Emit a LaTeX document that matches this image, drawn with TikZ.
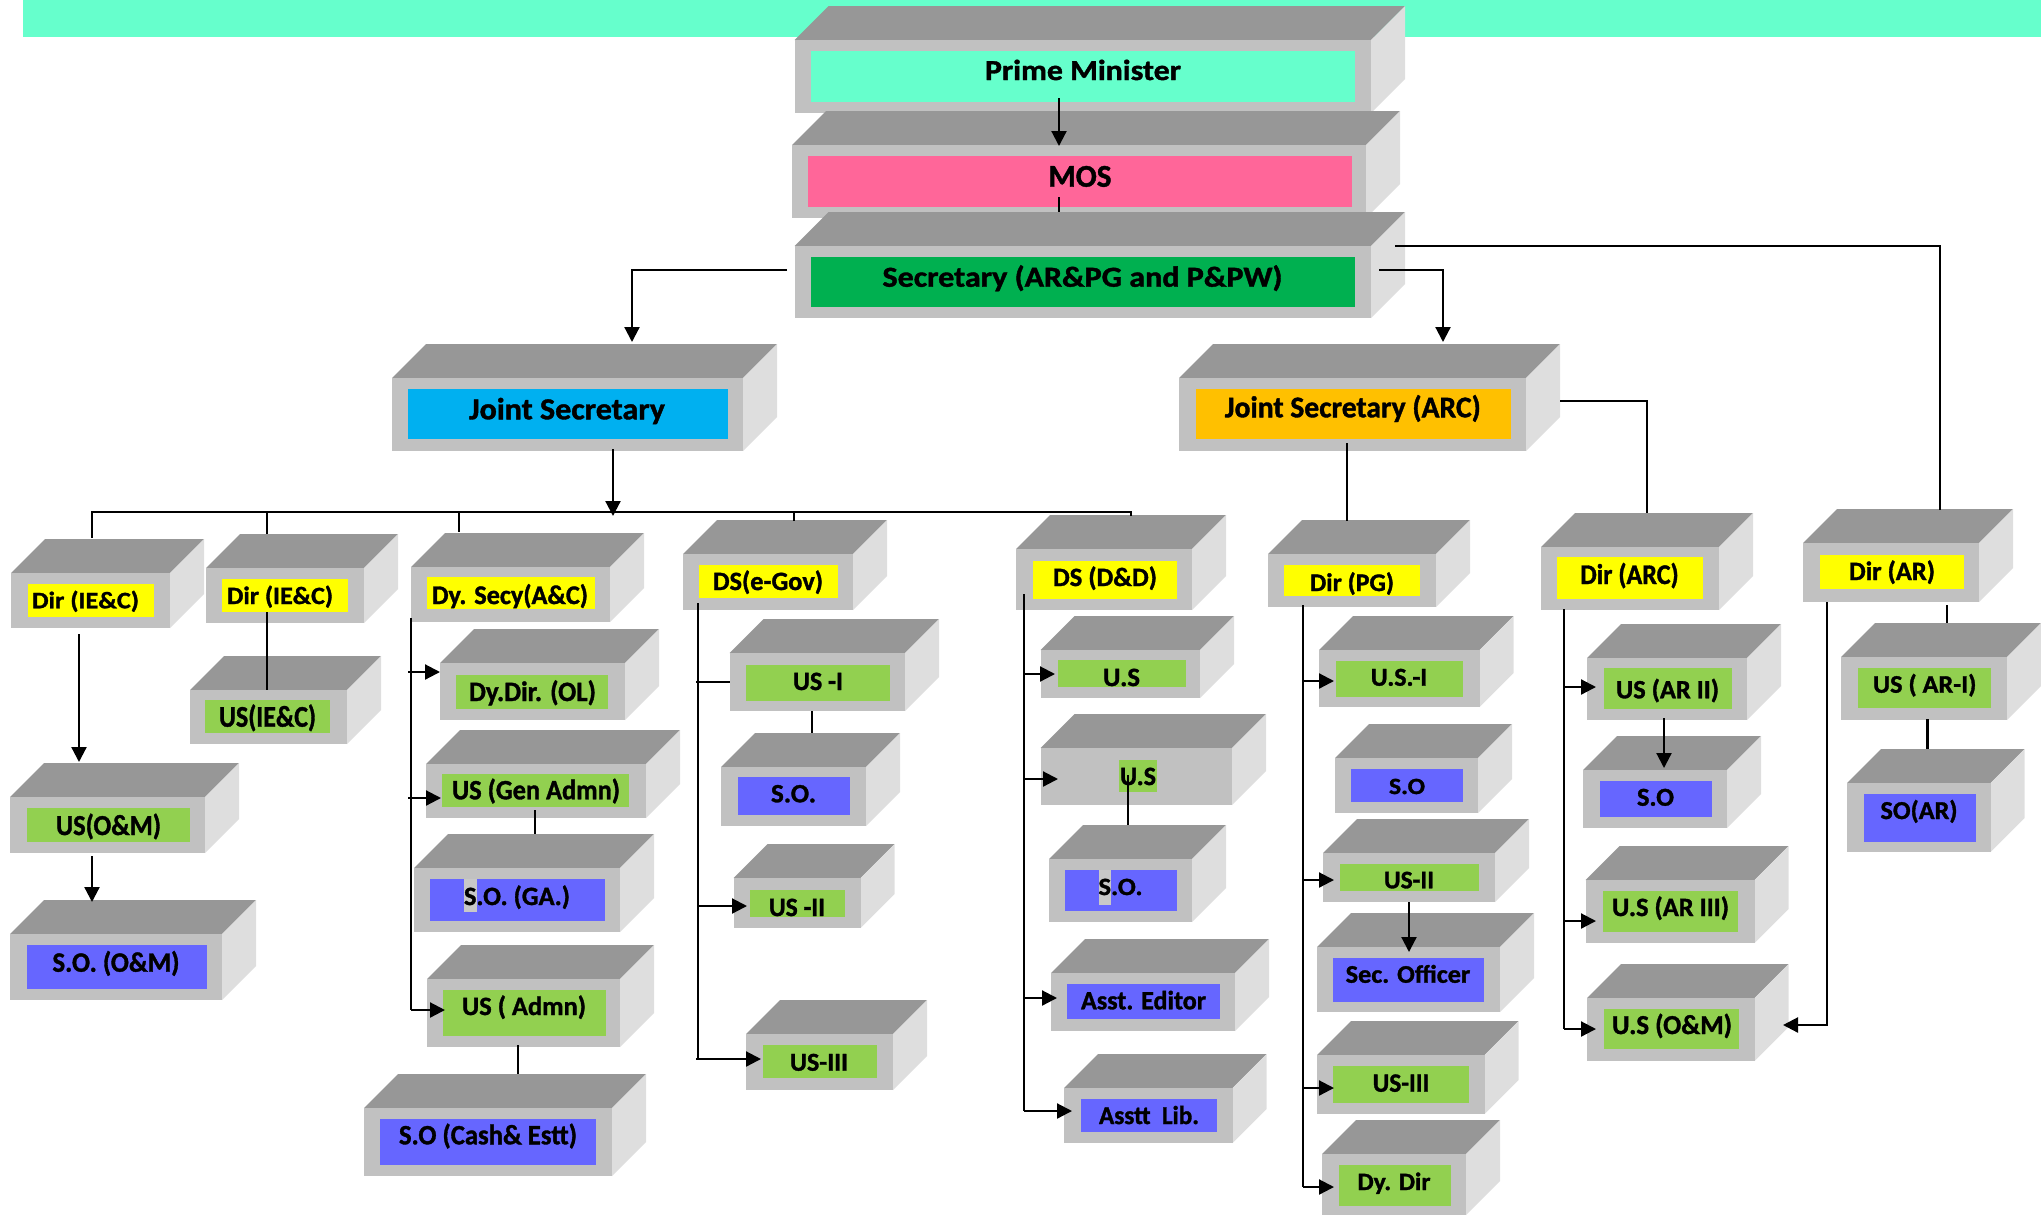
\documentclass[tikz,border=0pt]{standalone}
\usepackage{fontspec}
\setmainfont{Carlito}[BoldFeatures={FakeBold=1.3}]
\usepackage{graphicx}
\usetikzlibrary{arrows.meta}
\definecolor{topc}{HTML}{979797}
\definecolor{sidec}{HTML}{DEDEDE}
\definecolor{frontc}{HTML}{C1C1C1}
\definecolor{cyanc}{HTML}{66FFCC}
\definecolor{pinkc}{HTML}{FF6699}
\definecolor{secc}{HTML}{00B050}
\definecolor{jsc}{HTML}{00B0F0}
\definecolor{arcc}{HTML}{FFC000}
\definecolor{yelc}{HTML}{FFFF00}
\definecolor{grnc}{HTML}{92D050}
\definecolor{bluc}{HTML}{6666FF}
\definecolor{patchc}{HTML}{C8C8C8}
\newlength\fitw
\newcommand\fitt[3]{%
  \pgfmathsetmacro\fitfs{#2/0.632*0.5}%
  \fontsize{\fitfs pt}{\fitfs pt}\selectfont\bfseries
  \settowidth\fitw{#3}%
  \pgfmathsetmacro\fitsx{#1*0.5/\the\fitw}%
  \scalebox{\fitsx}[1]{#3}}
\newcommand\obox[5]{%
  \fill[topc] (#2,#3) -- (#2+34,#3-34) -- (#4+34,#3-34) -- (#4,#3) -- cycle;
  \fill[sidec] (#4,#3) -- (#4+34,#3-34) -- (#4+34,#5-34) -- (#4,#5) -- cycle;
  \node[frontbox, minimum width={(#4-#2)*0.5pt}, minimum height={(#5-#3)*0.5pt}] (#1) at ({(#2+#4)/2},{(#3+#5)/2}) {};}
\newcommand\ibox[6]{%
  \node[fill=#2, inner sep=0pt, outer sep=0pt, minimum width={(#5-#3)*0.5pt}, minimum height={(#6-#4)*0.5pt}] (#1) at ({(#3+#5)/2},{(#4+#6)/2}) {};}
\newcommand\tbox[6]{%
  \node[anchor=base, inner sep=0pt] (#1) at (#2,#3) {\fitt{#4}{#5}{#6}};}
\begin{document}
\begin{tikzpicture}[x=0.5pt,y=-0.5pt,
  frontbox/.style={fill=frontc, inner sep=0pt, outer sep=0pt},
  ln/.style={line width=1.1pt},
  arr/.style={ln, -{Triangle[length=7.5pt,width=7.5pt]}}]
\useasboundingbox (0,0) rectangle (2041,1217);
\fill[cyanc] (23,0) rectangle (2041,37);
% top chain
\obox{pm}{794.5}{40}{1371}{113}
\ibox{pm-i}{cyanc}{811}{51}{1355}{102}
\tbox{pm-t}{1083}{80}{196}{18.3}{Prime Minister}
\obox{mos}{792}{145}{1366}{218}
\ibox{mos-i}{pinkc}{808}{156}{1352}{207}
\tbox{mos-t}{1080}{186.7}{63}{20}{MOS}
\obox{sec}{794.5}{246}{1371}{318}
\ibox{sec-i}{secc}{811}{257}{1355}{307}
\tbox{sec-t}{1082.5}{286.7}{400}{18.3}{Secretary (AR\&PG and P\&PW)}
\obox{js}{392}{378}{743}{451}
\ibox{js-i}{jsc}{408}{389}{728}{439}
\tbox{js-t}{567}{419.3}{196}{19.3}{Joint Secretary}
\obox{jsarc}{1179}{378}{1526}{451}
\ibox{jsarc-i}{arcc}{1195.5}{389}{1511}{439}
\tbox{jsarc-t}{1352.8}{417.3}{256}{19}{Joint Secretary (ARC)}
% left directorates
\obox{d1}{11}{573}{170}{628}
\ibox{d1-i}{yelc}{28}{584}{154}{617}
\tbox{d1-t}{85.5}{608.3}{107}{15}{Dir (IE\&C)}
\obox{d2}{206}{568}{364}{623}
\ibox{d2-i}{yelc}{222}{579}{348}{612}
\tbox{d2-t}{280}{604}{106}{15.7}{Dir (IE\&C)}
\obox{dys}{411}{567}{610}{622}
\ibox{dys-i}{yelc}{427}{577}{595}{609}
\tbox{dys-t}{510}{604}{156}{17}{Dy. Secy(A\&C)}
\obox{usiec}{190}{690}{347}{744}
\ibox{usiec-i}{grnc}{205}{700}{330}{733}
\tbox{usiec-t}{267.5}{726.7}{97}{19}{US(IE\&C)}
\obox{dyol}{440}{663}{625}{720}
\ibox{dyol-i}{grnc}{456}{675}{608}{709}
\tbox{dyol-t}{532.5}{701}{127}{17.7}{Dy.Dir. (OL)}
\obox{usom}{10}{797}{205}{853}
\ibox{usom-i}{grnc}{27}{808}{190}{842}
\tbox{usom-t}{108.5}{835}{105}{18.3}{US(O\&M)}
\obox{soom}{10}{934}{222}{1000}
\ibox{soom-i}{bluc}{27}{945}{207}{989}
\tbox{soom-t}{116}{971.7}{127}{17.7}{S.O. (O\&M)}
\obox{usgen}{426}{764}{646}{818}
\ibox{usgen-i}{grnc}{442}{774}{629}{807}
\tbox{usgen-t}{536}{799.3}{168}{17.7}{US (Gen Admn)}
\obox{soga}{414}{868}{620}{932}
\ibox{soga-i}{bluc}{430}{879}{605}{921}
\fill[patchc] (464,879) rectangle (477,912);
\tbox{soga-t}{517}{905}{106}{16.7}{S.O. (GA.)}
\obox{usadm}{427}{979}{620}{1047}
\ibox{usadm-i}{grnc}{443}{990}{606}{1036}
\tbox{usadm-t}{524}{1015}{124}{16.7}{US ( Admn)}
\obox{socash}{364}{1108}{612}{1176}
\ibox{socash-i}{bluc}{380}{1119}{596}{1165}
\tbox{socash-t}{488}{1144.3}{178}{17.7}{S.O (Cash\& Estt)}
% DS(e-Gov) column
\obox{dseg}{683}{554}{853}{610}
\ibox{dseg-i}{yelc}{699}{565}{837.5}{598}
\tbox{dseg-t}{768}{590}{110}{16.7}{DS(e-Gov)}
\obox{us1}{729.5}{653}{905}{711}
\ibox{us1-i}{grnc}{746}{665}{890}{701}
\tbox{us1-t}{818}{690}{50}{16.7}{US -I}
\obox{so1}{721}{767}{866}{826}
\ibox{so1-i}{bluc}{738}{777}{850}{815}
\tbox{so1-t}{793.5}{802.3}{45}{16.7}{S.O.}
\obox{us2}{733.5}{878}{860.7}{928}
\ibox{us2-i}{grnc}{749.5}{890}{845}{917}
\tbox{us2-t}{797}{916}{56}{16.7}{US -II}
\obox{us3}{746}{1034}{893}{1090}
\ibox{us3-i}{grnc}{762.5}{1045}{877}{1078}
\tbox{us3-t}{819}{1070.7}{58}{16.3}{US-III}
% DS(D&D) column
\obox{dsdd}{1016}{549}{1192}{610}
\ibox{dsdd-i}{yelc}{1032.5}{561}{1177}{599}
\tbox{dsdd-t}{1105}{586}{104}{16.7}{DS (D\&D)}
\obox{usa}{1040.6}{650}{1200}{698}
\ibox{usa-i}{grnc}{1057.6}{660}{1185.7}{687}
\tbox{usa-t}{1121.5}{686}{37}{16.7}{U.S}
\obox{usb}{1040.6}{748}{1232}{805}
\ibox{usb-i}{grnc}{1119}{760}{1157}{792}
\tbox{usb-t}{1138}{785}{36}{16.7}{U.S}
\obox{sodd}{1049}{859}{1192}{922}
\ibox{sodd-i}{bluc}{1065}{870}{1177}{911}
\fill[patchc] (1099,870) rectangle (1111,905);
\tbox{sodd-t}{1120.5}{895}{44}{15.7}{S.O.}
\obox{asted}{1051}{973}{1235}{1031}
\ibox{asted-i}{bluc}{1067}{984}{1220}{1019}
\tbox{asted-t}{1143.5}{1009.3}{125}{16.7}{Asst. Editor}
\obox{astlib}{1064}{1088}{1232.5}{1143}
\ibox{astlib-i}{bluc}{1081}{1099}{1217}{1132}
\tbox{astlib-t}{1149}{1124}{100}{16.3}{Asstt\ \ Lib.}
% Dir(PG) column
\obox{dirpg}{1268}{554}{1436}{607}
\ibox{dirpg-i}{yelc}{1284}{565}{1420}{596}
\tbox{dirpg-t}{1352}{591}{84}{16}{Dir (PG)}
\obox{uspg1}{1319}{650}{1479.5}{707}
\ibox{uspg1-i}{grnc}{1336}{661}{1463}{697}
\tbox{uspg1-t}{1399}{685.7}{56.5}{16.3}{U.S.-I}
\obox{sopg}{1335}{758}{1478}{813}
\ibox{sopg-i}{bluc}{1351}{769}{1463}{802}
\tbox{sopg-t}{1407}{794}{36}{14.7}{S.O}
\obox{uspg2}{1323}{853}{1495}{902}
\ibox{uspg2-i}{grnc}{1340}{864}{1478.5}{891}
\tbox{uspg2-t}{1409}{888.3}{50}{16}{US-II}
\obox{secoff}{1317}{947}{1500}{1012}
\ibox{secoff-i}{bluc}{1333}{958}{1483.6}{1002}
\tbox{secoff-t}{1408}{982.7}{124.6}{16}{Sec. Officer}
\obox{uspg3}{1317}{1055}{1484.6}{1114}
\ibox{uspg3-i}{grnc}{1333}{1066}{1468.5}{1103}
\tbox{uspg3-t}{1401}{1091.7}{56.5}{16.7}{US-III}
\obox{dydir}{1322}{1154}{1466}{1215}
\ibox{dydir-i}{grnc}{1339}{1165}{1451}{1206}
\tbox{dydir-t}{1394}{1190}{73}{15.7}{Dy. Dir}
% Dir(ARC) column
\obox{dirarc}{1541}{547}{1719}{610}
\ibox{dirarc-i}{yelc}{1557}{557}{1703}{599}
\tbox{dirarc-t}{1629.5}{584}{98.4}{18}{Dir (ARC)}
\obox{usar2}{1587}{658}{1747}{720}
\ibox{usar2-i}{grnc}{1604}{668}{1732}{709}
\tbox{usar2-t}{1667.5}{698.3}{103}{16.7}{US (AR II)}
\obox{soarc}{1583}{770}{1727}{828}
\ibox{soarc-i}{bluc}{1600}{781}{1712}{817}
\tbox{soarc-t}{1655.5}{805.7}{37}{16.3}{S.O}
\obox{usar3}{1585.5}{880}{1754.5}{943}
\ibox{usar3-i}{grnc}{1603}{891}{1738}{932}
\tbox{usar3-t}{1670.5}{916}{117}{16.7}{U.S (AR III)}
\obox{usomr}{1587}{998}{1754.5}{1061}
\ibox{usomr-i}{grnc}{1604}{1009}{1739}{1049}
\tbox{usomr-t}{1672}{1034}{120}{17.3}{U.S (O\&M)}
% Dir(AR) column
\obox{dirar}{1803}{543}{1979}{602}
\ibox{dirar-i}{yelc}{1820}{555}{1964}{589}
\tbox{dirar-t}{1892}{580}{86}{16.7}{Dir (AR)}
\obox{usar1}{1841}{657}{2007}{720}
\ibox{usar1-i}{grnc}{1858}{668}{1990.6}{708}
\tbox{usar1-t}{1924.7}{692.7}{103.4}{16}{US ( AR-I)}
\obox{soar}{1847}{783}{1990.6}{852}
\ibox{soar-i}{bluc}{1864}{794}{1975.5}{842}
\tbox{soar-t}{1919}{819}{77}{16.3}{SO(AR)}
% connector end points
\coordinate (pmo) at (1059,98);   \coordinate (mosin) at (1059,146);
\coordinate (moso) at (1059,197); \coordinate (secin) at (1059,212);
\coordinate (secl) at (787,270);  \coordinate (jsin) at (632,342);
\coordinate (secr) at (1379,270); \coordinate (jsarcin) at (1443,342);
\coordinate (secr2) at (1395,246); \coordinate (dirarin) at (1940,510);
\coordinate (jso) at (613,449);   \coordinate (busc) at (613,516);
\coordinate (busl) at (92,512);   \coordinate (busr) at (1131,512);
\coordinate (d1in) at (92,538);   \coordinate (d2in) at (267,534);
\coordinate (dysin) at (459,532); \coordinate (dsegin) at (794,521);
\coordinate (dsddin) at (1131,516);
% connectors
\draw[arr] (pmo) -- (mosin);
\draw[ln] (moso) -- (secin);
\draw[arr] (secl) -| (jsin);
\draw[arr] (secr) -| (jsarcin);
\draw[ln] (secr2) -| (dirarin);
\draw[arr] (jso) -- (busc);
\draw[ln] (d1in) -- (busl) -- (busr) -- (dsddin);
\draw[ln] (busl -| d2in) -- (d2in);
\draw[ln] (busl -| dysin) -- (dysin);
\draw[ln] (busl -| dsegin) -- (dsegin);
\draw[ln] (267,612) -- (usiec.north -| 267,0);
\draw[arr] (79,634) -- (79,762);
\draw[arr] (92,856) -- (92,902);
% Dy. Secy column
\draw[ln] (411,618) -- (411,1010);
\draw[arr] (408,672) -- (dyol.west |- 0,672);
\draw[arr] (408,798) -- (441,798);
\draw[arr] (411,1010) -- (445,1010);
\draw[ln] (535,810) -- (535,834);
\draw[ln] (518,1045) -- (518,1074);
% DS(e-Gov) column
\draw[ln] (698,603) -- (698,1059);
\draw[ln] (696,682) -- (us1.west |- 0,682);
\draw[arr] (698,906) -- (747,906);
\draw[arr] (696,1059) -- (761,1059);
\draw[ln] (812,711) -- (812,733);
% DS(D&D) column
\draw[ln] (1024,594) -- (1024,1111);
\draw[arr] (1024,674) -- (1055,674);
\draw[arr] (1024,779) -- (1058,779);
\draw[arr] (1024,998) -- (1057,998);
\draw[arr] (1024,1111) -- (1072,1111);
\draw[ln] (1128,775) -- (1128,825);
% JS(ARC) branches
\draw[ln] (1347,443) -- (1347,521);
\draw[ln] (1560,401) -| (1647,513);
% Dir(PG) column
\draw[ln] (1303,605) -- (1303,1187);
\draw[arr] (1303,681) -- (1334,681);
\draw[arr] (1303,880) -- (1334,880);
\draw[arr] (1303,1088) -- (1334,1088);
\draw[arr] (1303,1187) -- (1334,1187);
\draw[arr] (1409,902) -- (1409,952);
% Dir(ARC) column
\draw[ln] (1564,609) -- (1564,1029);
\draw[arr] (1564,687) -- (1596,687);
\draw[arr] (1564,921) -- (1596,921);
\draw[arr] (1564,1029) -- (1596,1029);
\draw[arr] (1664,718) -- (1664,768);
% Dir(AR) column
\draw[arr] (1827,602) |- (1783,1025);
\draw[ln] (1947,605) -- (1947,623);
\draw[ln] (1927.5,719) -- (1927.5,749);
\end{tikzpicture}
\end{document}
